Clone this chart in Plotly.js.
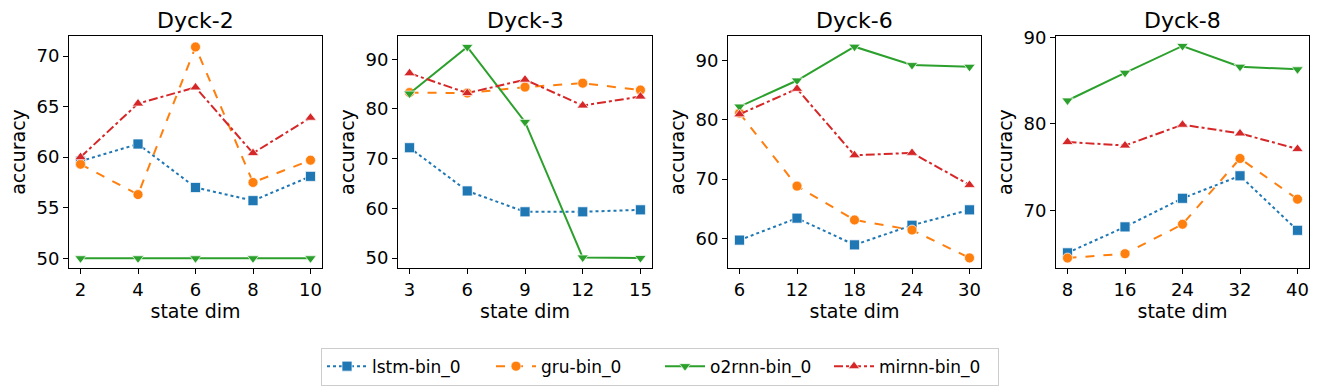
<!DOCTYPE html>
<html>
<head>
<meta charset="utf-8">
<script src="https://cdn.plot.ly/plotly-3.0.1.min.js"></script>
<style>
  html, body { margin: 0; padding: 0; background: #fff; }
  #plotId { width: 1320px; height: 390px; }
</style>
</head>
<body>
<div id="plotId"></div>
<script>
// values
const panelTitles = ['Dyck-2', 'Dyck-3', 'Dyck-6', 'Dyck-8'];

const stateDims = [
    [2, 4, 6, 8, 10],
    [3, 6, 9, 12, 15],
    [6, 12, 18, 24, 30],
    [8, 16, 24, 32, 40]
];

const lstmAcc = [
    [59.6, 61.3, 57.0, 55.7, 58.1],
    [72.2, 63.5, 59.3, 59.3, 59.7],
    [59.7, 63.4, 58.9, 62.2, 64.8],
    [65.1, 68.1, 71.4, 74.0, 67.7]
];
const gruAcc = [
    [59.3, 56.3, 70.9, 57.5, 59.7],
    [83.3, 83.2, 84.4, 85.2, 83.8],
    [81.1, 68.8, 63.1, 61.4, 56.7],
    [64.5, 65.0, 68.4, 76.0, 71.3]
];
const o2rnnAcc = [
    [50.0, 50.0, 50.0, 50.0, 50.0],
    [83.1, 92.5, 77.4, 50.1, 50.0],
    [82.2, 86.6, 92.3, 89.2, 88.9],
    [82.7, 85.9, 89.0, 86.6, 86.3]
];
const mirnnAcc = [
    [60.0, 65.3, 66.9, 60.4, 63.9],
    [87.2, 83.2, 85.9, 80.7, 82.5],
    [80.9, 85.2, 74.0, 74.4, 69.0],
    [77.9, 77.5, 79.9, 78.9, 77.1]
];

const seriesNames = ['lstm-bin_0', 'gru-bin_0', 'o2rnn-bin_0', 'mirnn-bin_0'];
const seriesData = [lstmAcc, gruAcc, o2rnnAcc, mirnnAcc];
const seriesColors = ['#1f77b4', '#ff7f0e', '#2ca02c', '#d62728'];
const seriesDash = ['dot', 'dash', 'solid', 'dashdot'];
const seriesSymbol = ['square', 'circle', 'triangle-down', 'triangle-up'];

// axis placement (pixels measured on the reference)
const xDomains = [[69, 322], [398, 652], [728, 981], [1056, 1309]];
const yRanges = [[49.04, 71.98], [47.99, 94.69], [55.0, 94.1], [63.35, 90.15]];
const yTicks = [[50, 55, 60, 65, 70], [50, 60, 70, 80, 90], [60, 70, 80, 90], [70, 80, 90]];

const W = 1320, H = 390;
const font = 'DejaVu Sans, sans-serif';

let traces = [];
let layout = {
    width: W,
    height: H,
    margin: { l: 0, r: 0, t: 0, b: 0 },
    paper_bgcolor: '#fff',
    plot_bgcolor: '#fff',
    font: { family: font, color: '#000', size: 18 },
    showlegend: true,
    legend: {
        orientation: 'h',
        x: 0.5, xanchor: 'center',
        y: 0.06, yanchor: 'middle',
        bordercolor: '#cccccc',
        borderwidth: 1,
        bgcolor: '#fff',
        font: { family: font, size: 17 },
        entrywidth: 114,
        itemwidth: 40,
        traceorder: 'normal'
    },
    annotations: []
};

for (let p = 0; p < 4; p++) {
    const ax = p === 0 ? '' : String(p + 1);
    const xs = stateDims[p];
    const span = xs[xs.length - 1] - xs[0];

    for (let s = 0; s < 4; s++) {
        traces.push({
            x: xs,
            y: seriesData[s][p],
            xaxis: 'x' + ax,
            yaxis: 'y' + ax,
            type: 'scatter',
            mode: 'lines+markers',
            name: seriesNames[s],
            legendgroup: seriesNames[s],
            showlegend: p === 0,
            line: { color: seriesColors[s], width: 2, dash: seriesDash[s] },
            marker: {
                symbol: seriesSymbol[s],
                size: 10,
                color: seriesColors[s],
                line: { color: 'rgba(255,255,255,0.7)', width: 1 }
            }
        });
    }

    layout['xaxis' + ax] = {
        domain: [xDomains[p][0] / W, xDomains[p][1] / W],
        anchor: 'y' + ax,
        range: [xs[0] - 0.05 * span, xs[xs.length - 1] + 0.05 * span],
        tickmode: 'array',
        tickvals: xs,
        ticks: 'outside',
        ticklen: 5,
        tickwidth: 1,
        tickcolor: '#000',
        tickfont: { size: 18 },
        showgrid: false,
        zeroline: false,
        showline: true,
        linecolor: '#000',
        linewidth: 1,
        mirror: true,
        title: { text: 'state dim', font: { size: 19 }, standoff: 5 }
    };
    layout['yaxis' + ax] = {
        domain: [1 - 268 / H, 1 - 36 / H],
        anchor: 'x' + ax,
        range: yRanges[p],
        tickmode: 'array',
        tickvals: yTicks[p],
        ticks: 'outside',
        ticklen: 5,
        tickwidth: 1,
        tickcolor: '#000',
        tickfont: { size: 18 },
        showgrid: false,
        zeroline: false,
        showline: true,
        linecolor: '#000',
        linewidth: 1,
        mirror: true,
        title: { text: 'accuracy', font: { size: 19 }, standoff: 5 }
    };

    layout.annotations.push({
        text: panelTitles[p],
        xref: 'x' + ax + ' domain',
        yref: 'y' + ax + ' domain',
        x: 0.5, y: 1,
        xanchor: 'center', yanchor: 'bottom',
        yshift: 1,
        showarrow: false,
        font: { family: font, size: 22, color: '#000' }
    });
}

Plotly.newPlot('plotId', traces, layout, { displayModeBar: false, staticPlot: true });
</script>
</body>
</html>
